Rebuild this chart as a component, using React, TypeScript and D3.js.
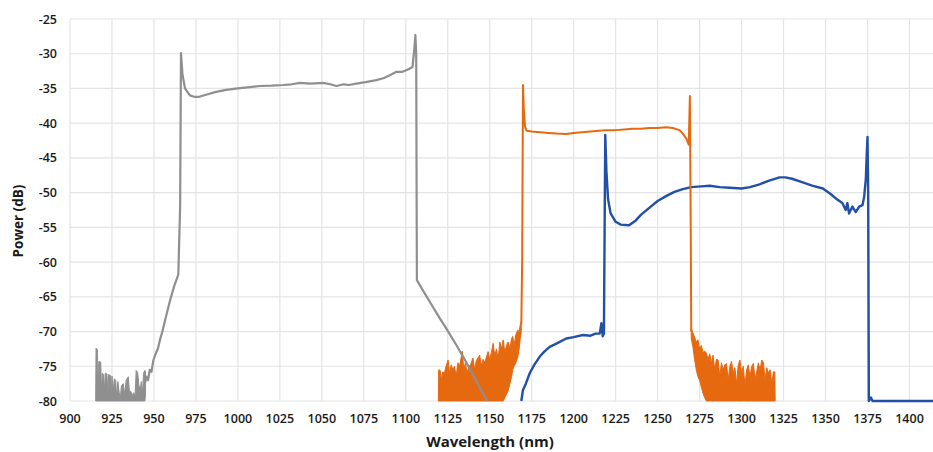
import React from "react";
import * as d3 from "d3";

const xTicks = [900, 925, 950, 975, 1000, 1025, 1050, 1075, 1100, 1125, 1150, 1175, 1200, 1225, 1250, 1275, 1300, 1325, 1350, 1375, 1400];
const yTicks = [-25, -30, -35, -40, -45, -50, -55, -60, -65, -70, -75, -80];

// [wavelength, top, bottom]
const grayNoise: [number, number, number][] = [
  [915.3, -80, -80], [915.5, -72.4, -80], [916.3, -72.6, -80], [916.8, -78, -80], [917.2, -74.3, -80], [918.3, -74.4, -80],
  [918.8, -79, -80], [919.2, -76, -80], [920, -76.2, -80], [920.6, -78.5, -80], [921, -76, -80], [922, -76.1, -80],
  [922.6, -79.3, -80], [923, -76.2, -80], [924, -76.3, -80], [924.5, -79, -80], [925, -76.4, -80], [925.8, -78.5, -80],
  [926.4, -76.8, -80], [927.2, -77, -80], [927.8, -79.5, -80], [928.5, -77.2, -80], [929.3, -78.8, -80], [930, -79.6, -80],
  [930.6, -77.8, -80], [931.7, -77.5, -80], [932.5, -79, -80], [933.5, -77, -80], [934.7, -76.5, -80], [935.4, -78.7, -80],
  [936.2, -78.6, -80], [937, -79.2, -80], [938, -78.8, -80], [938.8, -79.3, -80], [939.4, -75.6, -80], [940.3, -75.9, -80],
  [941, -77.7, -80], [941.8, -78.5, -80], [942.5, -77.2, -80], [943.2, -79, -80], [943.8, -76, -80], [944.6, -75.6, -80],
  [945, -75.8, -79],
];

const grayLine: [number, number][] = [
  [944.6, -77.5], [945.5, -76.5], [946.5, -77], [947.5, -75.5], [948.5, -75.8], [949.6, -74.2], [951, -73.2], [952.3, -72.5],
  [953.6, -71.2], [955, -70], [957, -68], [959.5, -65.6], [962, -63.5], [964.5, -61.8], [965.6, -52], [966.1, -29.9],
  [967, -33], [968.5, -35], [971.4, -36], [974, -36.2], [977, -36.2], [981, -35.9], [987, -35.5], [993, -35.2], [1000, -35],
  [1007, -34.8], [1013, -34.65], [1020, -34.6], [1027, -34.5], [1032, -34.4], [1037, -34.2], [1043, -34.3], [1050.7, -34.2],
  [1055, -34.4], [1058.7, -34.65], [1063, -34.4], [1066, -34.5], [1070.6, -34.3], [1076, -34.1], [1082.5, -33.8],
  [1087, -33.5], [1090.5, -33.1], [1094.4, -32.6], [1098, -32.6], [1101, -32.3], [1104, -31.9], [1105.2, -29],
  [1105.7, -27.3], [1106.2, -30], [1206.6 - 100, -62.6], [1110, -64], [1115, -66], [1120, -68], [1125, -69.9], [1130, -71.9],
  [1135, -74], [1140, -76.2], [1145, -78.5], [1148.5, -80],
];

const orangeNoiseLeft: [number, number, number][] = [
  [1119.4, -80, -80], [1119.6, -75.5, -80], [1120.5, -75.6, -80], [1121.2, -77, -80], [1122, -75.8, -80], [1123, -76, -80],
  [1124, -75, -80], [1125.2, -74.1, -80], [1126, -76, -80], [1127, -74.8, -80], [1128, -75.5, -80], [1129, -75, -80],
  [1130, -76.5, -80], [1131, -74.5, -80], [1132, -75, -80], [1133.7, -72.8, -80], [1134.5, -75.5, -80], [1135.5, -74.5, -80],
  [1136.5, -76, -80], [1137.5, -75, -80], [1138.5, -74.8, -80], [1140, -73.8, -80], [1141, -75.5, -80], [1142, -74.2, -80],
  [1144, -73.4, -80], [1145, -75, -80], [1146, -74, -80], [1147, -74.5, -80], [1149, -72.9, -80], [1150, -74, -80],
  [1151, -73, -80], [1152, -71.7, -80], [1153, -73.5, -80], [1154, -72.5, -80], [1155, -74, -80], [1156, -71.5, -80],
  [1157, -72.5, -80], [1158, -71.2, -80], [1159, -73, -79.5], [1160, -72, -79], [1161, -71.5, -78.5], [1162, -72.5, -77.5],
  [1163, -71, -76.5], [1163.7, -70.7, -75.5], [1164.5, -72, -75], [1165.5, -70.5, -74.5], [1166.6, -69.8, -73.8],
  [1167.5, -70, -72.5], [1168.2, -69, -71], [1168.8, -68.5, -70],
];

const orangeLine: [number, number][] = [
  [1168.8, -69], [1169.3, -60], [1169.8, -34.5], [1170.3, -38], [1171, -40.5], [1172, -41.1], [1175, -41.2], [1180, -41.3],
  [1185, -41.4], [1190, -41.5], [1195.6, -41.55], [1200, -41.4], [1205, -41.3], [1210, -41.2], [1215, -41.1], [1220, -41],
  [1225, -41], [1230, -40.9], [1235, -40.8], [1240, -40.8], [1245, -40.7], [1250, -40.7], [1255, -40.6], [1259, -40.7],
  [1263, -41], [1265, -41.5], [1267, -42.2], [1268.5, -43.1], [1269.2, -36.1], [1269.7, -55], [1270, -70],
];

const orangeNoiseRight: [number, number, number][] = [
  [1270, -69.5, -71], [1271, -70.2, -72.2], [1272, -70.8, -74], [1273, -71.5, -75.5], [1274, -71.2, -76.5], [1275, -72.5, -77],
  [1276, -72, -78], [1277, -73, -78.9], [1278, -72.8, -79.5], [1279, -73.1, -80], [1280, -74, -80], [1281, -73.2, -80],
  [1282, -74.5, -80], [1283, -73.4, -80], [1284, -75.5, -80], [1285, -74, -80], [1286, -74.1, -80], [1287, -76.5, -80],
  [1288, -74.5, -80], [1289, -75.5, -80], [1290, -74.8, -80], [1291, -74.6, -80], [1292, -77, -80], [1293, -75, -80],
  [1294, -74.3, -80], [1295, -76, -80], [1296, -75.2, -80], [1297, -77.5, -80], [1298, -74.8, -80], [1299, -74.1, -80],
  [1300, -76, -80], [1301, -75, -80], [1302, -77.8, -80], [1303, -75.5, -80], [1304, -74.8, -80], [1305, -76.5, -80],
  [1306, -75, -80], [1307, -74.6, -80], [1308, -76.8, -80], [1309, -75.8, -80], [1310, -74.5, -80], [1311, -75.5, -80],
  [1312, -74.1, -80], [1313, -74.5, -80], [1314, -77, -80], [1315, -75.2, -80], [1316, -76, -80], [1317, -75.5, -80],
  [1318, -77.5, -80], [1319, -75.8, -80], [1319.8, -75.8, -80], [1320, -80, -80],
];

const blueLine: [number, number][] = [
  [1168.8, -80], [1169.8, -78.4], [1171.5, -77.5], [1173.8, -76], [1176.5, -74.8], [1179.8, -73.6], [1182.5, -72.9],
  [1185.7, -72.2], [1190, -71.7], [1195.6, -71], [1200, -70.8], [1205.5, -70.5], [1210, -70.6], [1213, -70.3], [1215.5, -70.3],
  [1216.5, -68.8], [1217.3, -70.7], [1218, -70.3], [1218.8, -41.7], [1219.5, -47], [1220.5, -51], [1222, -53], [1225, -54.2],
  [1228, -54.6], [1233, -54.7], [1237, -54], [1240, -53.2], [1245, -52.2], [1250, -51.2], [1255, -50.5], [1260, -49.9],
  [1265, -49.5], [1270, -49.2], [1276, -49.1], [1281, -49], [1287, -49.2], [1293, -49.3], [1300, -49.4], [1305, -49.2],
  [1310.7, -48.8], [1316, -48.3], [1322.6, -47.8], [1326, -47.8], [1330, -48], [1336, -48.5], [1342, -49], [1348.4, -49.4],
  [1353, -50.2], [1357, -51], [1360, -51.5], [1362, -52.5], [1363, -51.5], [1364, -53], [1366, -52], [1368, -52.8],
  [1370, -52], [1372, -51.8], [1373, -50.6], [1374, -48], [1374.6, -44], [1375, -42], [1375.4, -50], [1375.8, -80],
  [1377, -79.5], [1378, -80], [1414, -80],
];

const W = 933;
const H = 452;
const left = 70;
const right = 933;
const top = 19;
const bottom = 401;

const GRAY = "#8f8f8f";
const ORANGE = "#e6680f";
const BLUE = "#2150a6";

export default function App() {
  const x = d3.scaleLinear().domain([900, 1414]).range([left, right]);
  const y = d3.scaleLinear().domain([-80, -25]).range([bottom, top]);
  const line = d3.line<[number, number]>().x((d) => x(d[0])).y((d) => y(d[1]));
  const area = d3
    .area<[number, number, number]>()
    .x((d) => x(d[0]))
    .y0((d) => y(d[2]))
    .y1((d) => y(d[1]));
  const fontFamily = "'Open Sans', 'Noto Sans', sans-serif";

  return (
    <svg width={W} height={H} style={{ position: "absolute", left: 0, top: 0, background: "#fff" }}>
      <g>
        {yTicks.map((t) => (
          <line key={"h" + t} x1={left} x2={right} y1={y(t)} y2={y(t)} stroke="#e4e4e4" strokeWidth={1.2} />
        ))}
        {xTicks.map((t) => (
          <line key={"v" + t} x1={x(t)} x2={x(t)} y1={top} y2={bottom} stroke="#e4e4e4" strokeWidth={1.2} />
        ))}
      </g>
      <g>
        <path d={line(blueLine) || ""} fill="none" stroke={BLUE} strokeWidth={2.4} strokeLinejoin="round" />
        <path d={area(orangeNoiseLeft) || ""} fill={ORANGE} stroke={ORANGE} strokeWidth={1} />
        <path d={area(orangeNoiseRight) || ""} fill={ORANGE} stroke={ORANGE} strokeWidth={1} />
        <path d={line(orangeLine) || ""} fill="none" stroke={ORANGE} strokeWidth={2} strokeLinejoin="round" />
        <path d={area(grayNoise) || ""} fill={GRAY} stroke={GRAY} strokeWidth={1} />
        <path d={line(grayLine) || ""} fill="none" stroke={GRAY} strokeWidth={2.2} strokeLinejoin="round" />
      </g>
      <g fontFamily={fontFamily} fontWeight={600} fontSize={12.5} fill="#1a1a1a">
        {yTicks.map((t) => (
          <text key={"yt" + t} x={57} y={y(t) + 4.5} textAnchor="end">
            {t}
          </text>
        ))}
        {xTicks.map((t) => (
          <text key={"xt" + t} x={x(t)} y={423} textAnchor="middle">
            {t}
          </text>
        ))}
      </g>
      <text
        x={490}
        y={447}
        textAnchor="middle"
        fontFamily={fontFamily}
        fontWeight={700}
        fontSize={15}
        fill="#1a1a1a"
      >
        Wavelength (nm)
      </text>
      <text
        transform={`translate(23, 221) rotate(-90)`}
        textAnchor="middle"
        fontFamily={fontFamily}
        fontWeight={700}
        fontSize={13.5}
        fill="#1a1a1a"
      >
        Power (dB)
      </text>
    </svg>
  );
}
